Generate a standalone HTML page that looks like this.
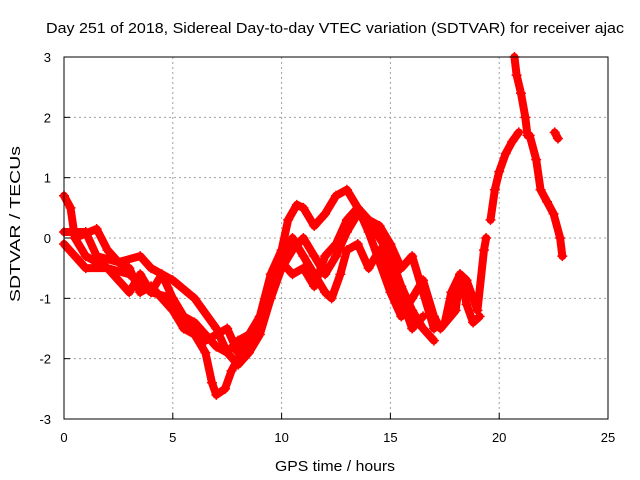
<!DOCTYPE html>
<html><head><meta charset="utf-8"><style>
body{margin:0;background:#fff;}
svg{display:block;font-family:"Liberation Sans",sans-serif;}
</style></head><body>
<svg id="chart" width="640" height="480" xmlns="http://www.w3.org/2000/svg">
<text x="335" y="33" font-size="15" text-anchor="middle" textLength="578" lengthAdjust="spacingAndGlyphs">Day 251 of 2018, Sidereal Day-to-day VTEC variation (SDTVAR) for receiver ajac</text>
<text x="335" y="471" font-size="15" text-anchor="middle" textLength="120" lengthAdjust="spacingAndGlyphs">GPS time / hours</text>
<text transform="translate(20,224) rotate(-90)" font-size="15" text-anchor="middle" textLength="156" lengthAdjust="spacingAndGlyphs">SDTVAR / TECUs</text>
<g id="grid"></g><g id="ticks"></g><g id="marks"></g>
<rect x="64" y="57" width="544" height="362" fill="none" stroke="#000" stroke-width="1"/>
</svg>
<script>
const xTicks=[0,5,10,15,20,25];
const yTicks=[-3,-2,-1,0,1,2,3];
const track1=[[0,0.7],[0.3,0.5],[0.5,0],[1,-0.3],[2,-0.5],[3,-0.6],[4,-0.9],[5,-1.0],[5.5,-1.3],[6,-1.6],[6.5,-1.9],[6.8,-2.4],[7,-2.6],[7.4,-2.5],[7.7,-2.2],[8,-2.0],[8.5,-1.8],[9,-1.3],[9.5,-0.6],[10,-0.2],[10.3,0.3],[10.7,0.55],[11,0.5],[11.5,0.2],[12,0.4],[12.5,0.7],[13,0.8],[13.5,0.5],[14,0.3],[14.5,0],[15,-0.3],[15.5,-0.8],[16,-1.2],[16.5,-1.5],[17,-1.7]];
const track2=[[0,0.1],[1,0.1],[1.5,-0.3],[2.5,-0.4],[3.5,-0.3],[4,-0.5],[5,-0.7],[6,-1.0],[7,-1.5],[7.5,-1.9],[8,-1.7],[9,-1.5],[9.5,-1.0],[10,-0.5],[10.5,-0.2],[11,0],[11.5,-0.3],[12,-0.6],[12.5,-0.3],[13,0.1],[13.5,0.4],[14,0.3],[14.5,0.2],[15,-0.1],[15.5,-0.5],[16,-0.3],[16.5,-0.9],[17,-1.5]];
const track3=[[0,-0.1],[1,-0.5],[2,-0.5],[3,-0.9],[3.5,-0.6],[4,-0.9],[4.5,-0.6],[5,-1.0],[5.5,-1.3],[6,-1.4],[6.5,-1.6],[7,-1.8],[7.5,-1.9],[8,-2.1],[8.5,-1.9],[9,-1.6],[9.5,-1.0],[10,-0.4],[10.5,0.0],[11,-0.3],[11.5,-0.6],[12,-0.9],[12.3,-1.0],[12.7,-0.6],[13,-0.2],[13.5,-0.1],[14,-0.5],[14.5,-0.2],[15,-0.6],[15.5,-1.0],[16,-1.5],[16.5,-1.3]];
const track4=[[0.5,0],[1.5,0.15],[2,-0.2],[2.5,-0.4],[3,-0.5],[3.5,-0.9],[4,-0.8],[4.5,-1.0],[5,-1.2],[5.5,-1.5],[6,-1.6],[6.5,-1.7],[7.5,-1.5],[8,-1.9],[8.5,-1.6],[9,-1.3],[9.5,-0.8],[10,-0.4],[10.5,-0.6],[11,-0.5],[11.5,-0.8],[12,-0.3],[12.5,-0.1],[13,0.3],[13.5,0.5],[14,0.1],[14.5,-0.4],[15,-0.9],[15.5,-1.3],[16,-1.0],[16.5,-0.7],[17,-1.3],[17.3,-1.5],[18,-1.2],[18.2,-0.6],[18.5,-0.7],[19,-1.2],[19.3,-0.2],[19.4,0.0]];
const track5=[[17.5,-1.4],[17.8,-0.9],[18.2,-0.6],[18.5,-1.1],[18.8,-1.4],[19.1,-1.3]];
const track6=[[19.6,0.3],[19.8,0.8],[20,1.1],[20.3,1.4],[20.6,1.6],[20.9,1.75]];
const track7=[[20.7,3.0],[20.8,2.7],[21,2.4],[21.2,2.0],[21.3,1.7]];
const track8=[[21.4,1.7],[21.7,1.3],[21.9,0.8],[22.2,0.6],[22.5,0.4],[22.8,0.0],[22.9,-0.3]];
const track9=[[22.55,1.75],[22.7,1.65]];
const tracks=[track1,track2,track3,track4,track5,track6,track7,track8,track9];
const NS="http://www.w3.org/2000/svg";
const X=t=>64+t*544/25, Y=v=>238-v*362/6;
const grid=document.getElementById('grid'),ticks=document.getElementById('ticks'),marks=document.getElementById('marks');
function mk(tag,attrs,parent){const e=document.createElementNS(NS,tag);for(const k in attrs)e.setAttribute(k,attrs[k]);parent.appendChild(e);return e;}
xTicks.forEach(t=>{
  if(t>0&&t<25){const g=mk('line',{x1:X(t),x2:X(t),y1:57,y2:419,stroke:'#a0a0a0','stroke-dasharray':'2,3'},grid);
  
  }
  const l=mk('text',{x:X(t),y:442,'font-size':13,'text-anchor':'middle'},ticks);l.textContent=t;
  
  
  mk('line',{x1:X(t),x2:X(t),y1:419,y2:413,stroke:'#000'},ticks);
});
yTicks.forEach(v=>{
  if(v>-3&&v<3){const g=mk('line',{x1:64,x2:608,y1:Y(v),y2:Y(v),stroke:'#a0a0a0','stroke-dasharray':'2,3'},grid);
  
  }
  const l=mk('text',{x:51,y:Y(v)+5,'font-size':13,'text-anchor':'end'},ticks);l.textContent=v;
  
  
  mk('line',{x1:64,x2:70,y1:Y(v),y2:Y(v),stroke:'#000'},ticks);
});
tracks.forEach(tr=>{
  const p=mk('polyline',{points:tr.map(d=>X(d[0])+','+Y(d[1])).join(' '),fill:'none',stroke:'#ff0000','stroke-width':8,'stroke-linejoin':'round','stroke-linecap':'round'},marks);
  
  
  tr.forEach(d=>{
    const x=X(d[0]),y=Y(d[1]);
    const m=mk('path',{d:`M${x-5},${y}H${x+5}M${x},${y-5}V${y+5}`,stroke:'#ff0000','stroke-width':1.5},marks);
    
    
  });
});
</script>
</body></html>
